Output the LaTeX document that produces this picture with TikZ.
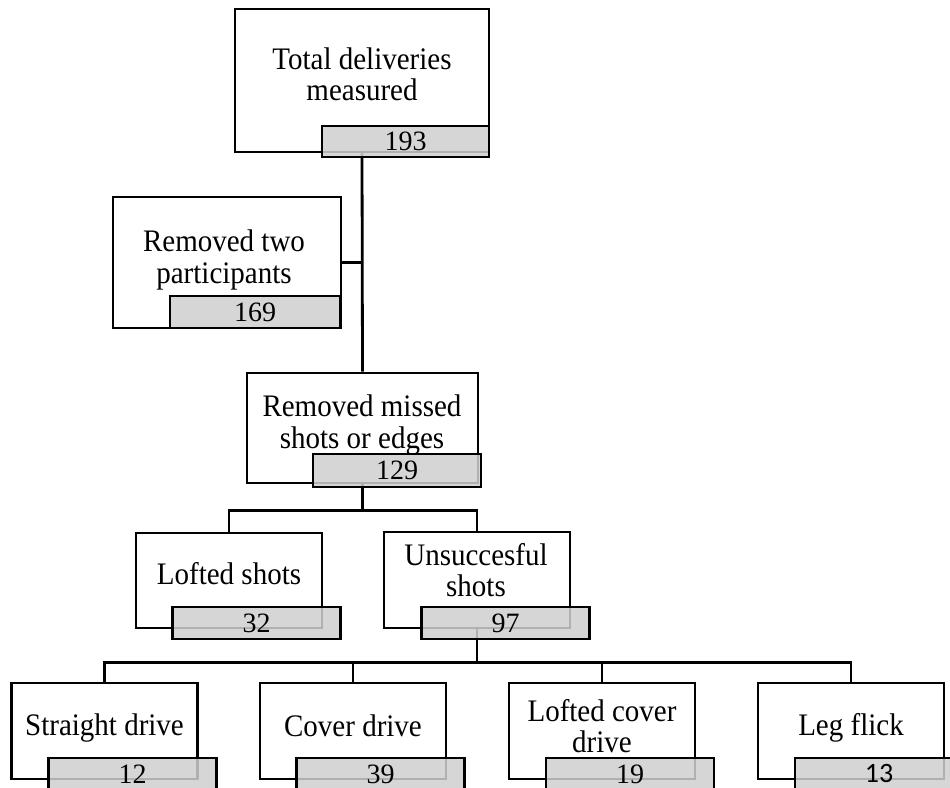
\documentclass[tikz,border=0pt]{standalone}
\usepackage{fontspec}
\setmainfont{Liberation Serif}
\newfontfamily\calibfont{Carlito}

\begin{document}
\begin{tikzpicture}[
  x=1pt, y=-1pt, line width=2.8pt,
  box/.style={draw, fill=white, minimum width=186pt, minimum height=96pt, inner sep=0pt},
  count/.style={draw, fill=black!19, fill opacity=.85, text opacity=1,
                minimum width=168pt, minimum height=32pt, inner sep=0pt,
                font=\fontsize{28}{28}\selectfont},
  lbl/.style={align=center, inner sep=0pt, font=\fontsize{29}{29}\selectfont,
              yscale=1.08, transform shape}
]
  \clip (0,0) rectangle (950,787);

  \node[box, minimum width=254pt, minimum height=143pt] (tot)  at (362,80.5) {};
  \node[box, minimum width=228pt, minimum height=131pt] (two)  at (227,262.5) {};
  \node[box, minimum width=231pt, minimum height=110pt] (miss) at (362.5,428) {};
  \node[box, minimum height=95pt] (loft) at (229,580.5) {};
  \node[box]                      (uns)  at (477,580) {};
  \node[box] (sd)  at (104.5,731) {};
  \node[box] (cd)  at (353,731) {};
  \node[box] (lcd) at (602,731) {};
  \node[box] (lf)  at (851,731) {};

  \draw (tot.south) -- (miss.north);
  \draw (two.east) -- (two.east -| tot.south);
  \draw (miss.south) -- ++(0,26) coordinate (j1);
  \draw (loft.north) |- (j1) -| (uns.north);
  \draw (uns.south) -- ++(0,33) coordinate (j2);
  \draw (sd.north) |- (j2) -| (lf.north);
  \draw (cd.north) -- (cd.north |- j2);
  \draw (lcd.north) -- (lcd.north |- j2);

  \node[lbl] (totT)  at (362,74) {Total deliveries\\measured};
  \node[lbl] (twoT)  at (224,260) {Removed two\\participants};
  \node[lbl] (missT) at (362,425) {Removed missed\\shots or edges};
  \node[lbl] (loftT) at (229,574) {Lofted shots};
  \node[lbl] (unsT)  at (476,570) {Unsuccesful\\shots};
  \node[lbl] (sdT)   at (104.5,728.5) {Straight drive};
  \node[lbl] (cdT)   at (353,725.5) {Cover drive};
  \node[lbl] (lcdT)  at (602,726) {Lofted cover\\drive};
  \node[lbl] (lfT)   at (851,728) {Leg flick};

  \node[count, minimum width=167pt, minimum height=31pt] (totN)  at (405.5,141.5) {193};
  \node[count, minimum width=170pt] (twoN)  at (255,312) {169};
  \node[count, minimum height=33pt] (missN) at (397,470.5) {129};
  \node[count] (loftN) at (256.5,623) {32};
  \node[count] (unsN)  at (505.5,623) {97};
  \node[count] (sdN)   at (132.5,774) {12};
  \node[count] (cdN)   at (380.5,774) {39};
  \node[count] (lcdN)  at (630,774) {19};
  \node[count, font=\calibfont\fontsize{28}{28}\selectfont] (lfN) at (879,774) {13};
\end{tikzpicture}
\end{document}
